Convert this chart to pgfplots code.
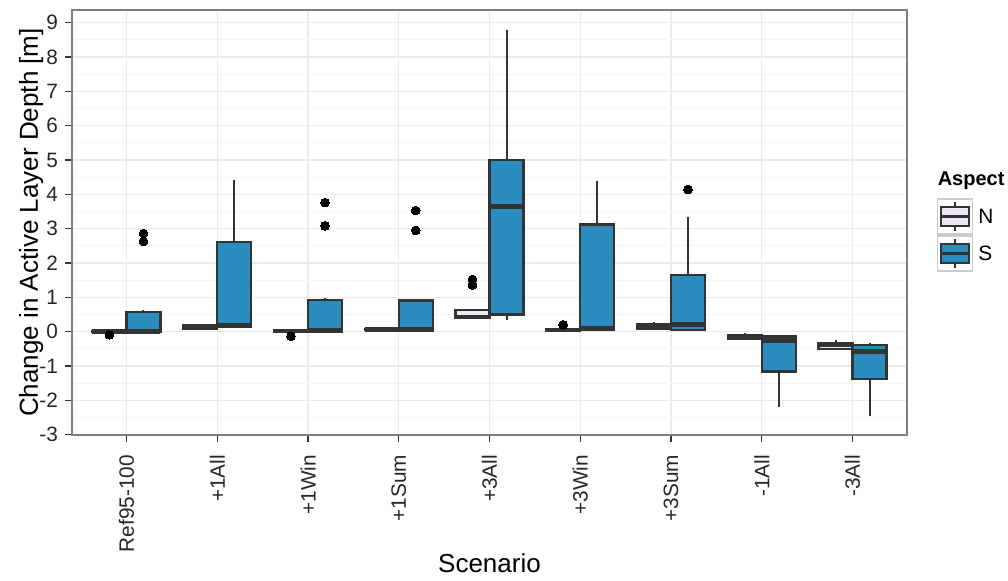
\documentclass[border=0pt]{standalone}
\usepackage{fontspec}
\setmainfont{Liberation Sans}
\usepackage{pgfplots}
\pgfplotsset{compat=1.18}
\usepgfplotslibrary{statistics}

\definecolor{nfill}{HTML}{ECE7F2}
\definecolor{sfill}{HTML}{2B8CBE}
\definecolor{boxline}{HTML}{333333}
\definecolor{gridmaj}{HTML}{EBEBEB}
\definecolor{gridmin}{HTML}{F5F5F5}
\definecolor{panelframe}{HTML}{7F7F7F}
\definecolor{keyframe}{HTML}{CCCCCC}

\pgfplotsset{
  aspectbox/.style={
    boxplot/draw direction=y,
    boxplot/box extend=0.375,
    boxplot/whisker extend=0,
    draw=boxline, line width=1pt,
    mark=*, mark size=2.2pt,
    mark options={fill=black, draw=black, line width=0pt},
    boxplot/every median/.style={line width=2.2pt},
  },
  Nbox/.style={aspectbox, boxplot/every box/.style={draw=boxline, fill=nfill, line width=1.1pt}},
  Sbox/.style={aspectbox, boxplot/every box/.style={draw=boxline, fill=sfill, line width=1.1pt}},
}

% one box: style, position, lower whisker, lower quartile, median, upper quartile, upper whisker
\newcommand{\aspectbox}[7]{%
  \addplot[#1, boxplot prepared={draw position=#2,
    lower whisker=#3, lower quartile=#4, median=#5,
    upper quartile=#6, upper whisker=#7}]}

\begin{document}
\begin{tikzpicture}
\path[use as bounding box] (-36pt,-72.5pt) rectangle (468pt,217.5pt);
\begin{axis}[
  at={(0pt,0pt)}, anchor=south west,
  scale only axis, width=417.5pt, height=212.5pt,
  xmin=0.4, xmax=9.6, ymin=-3.01, ymax=9.37,
  xtick={1,...,9},
  xticklabels={Ref95-100,+1All,+1Win,+1Sum,+3All,+3Win,+3Sum,-1All,-3All},
  ytick={-3,...,9},
  minor y tick num=1,
  grid=both,
  major grid style={gridmaj, line width=0.7pt},
  minor grid style={gridmin, line width=0.5pt},
  minor tick length=0pt,
  tick align=outside, tick pos=left,
  major tick length=3.5pt,
  major tick style={boxline, line width=0.6pt},
  axis line style={panelframe, line width=0.7pt},
  /pgf/number format/assume math mode=true,
  ticklabel style={font=\fontsize{10.4}{12}\selectfont, text=black!85},
  xticklabel style={yshift=-3pt, rotate=90, anchor=east},
  xlabel={Scenario},
  ylabel={Change in Active Layer Depth [m]},
  label style={font=\fontsize{13}{15}\selectfont},
  xlabel style={at={(axis description cs:0.5,-0.301)}, anchor=center},
  ylabel style={at={(axis description cs:-0.049,0.5)}, anchor=center},
]
% Aspect N (left of each scenario)
\aspectbox{Nbox}{0.8125}{-0.02}{-0.01}{0.00}{0.02}{0.03} coordinates {(0,-0.09)};
\aspectbox{Nbox}{1.8125}{0.05}{0.07}{0.14}{0.20}{0.22} coordinates {};
\aspectbox{Nbox}{2.8125}{-0.01}{0.00}{0.02}{0.04}{0.05} coordinates {(0,-0.13)};
\aspectbox{Nbox}{3.8125}{0.00}{0.04}{0.06}{0.08}{0.09} coordinates {};
\aspectbox{Nbox}{4.8125}{0.40}{0.41}{0.43}{0.63}{0.65} coordinates {(0,1.52) (0,1.36)};
\aspectbox{Nbox}{5.8125}{0.02}{0.03}{0.05}{0.08}{0.09} coordinates {(0,0.20)};
\aspectbox{Nbox}{6.8125}{0.07}{0.08}{0.12}{0.22}{0.27} coordinates {};
\aspectbox{Nbox}{7.8125}{-0.22}{-0.20}{-0.15}{-0.10}{-0.05} coordinates {};
\aspectbox{Nbox}{8.8125}{-0.52}{-0.50}{-0.38}{-0.34}{-0.23} coordinates {};
% Aspect S (right of each scenario)
\aspectbox{Sbox}{1.1875}{0.00}{0.00}{0.01}{0.58}{0.62} coordinates {(0,2.86) (0,2.63)};
\aspectbox{Sbox}{2.1875}{0.10}{0.15}{0.20}{2.62}{4.42} coordinates {};
\aspectbox{Sbox}{3.1875}{0.00}{0.00}{0.05}{0.93}{0.97} coordinates {(0,3.76) (0,3.08)};
\aspectbox{Sbox}{4.1875}{0.02}{0.03}{0.07}{0.91}{0.94} coordinates {(0,3.53) (0,2.95)};
\aspectbox{Sbox}{5.1875}{0.34}{0.50}{3.65}{5.01}{8.80} coordinates {};
\aspectbox{Sbox}{6.1875}{0.04}{0.05}{0.10}{3.12}{4.38} coordinates {};
\aspectbox{Sbox}{7.1875}{0.04}{0.05}{0.21}{1.66}{3.33} coordinates {(0,4.14)};
\aspectbox{Sbox}{8.1875}{-2.18}{-1.16}{-0.26}{-0.14}{-0.12} coordinates {};
\aspectbox{Sbox}{9.1875}{-2.47}{-1.38}{-0.58}{-0.39}{-0.34} coordinates {};
\end{axis}

% legend: Aspect
\node[anchor=west, inner sep=0pt, font=\bfseries\fontsize{10}{12}\selectfont] at (432.7pt,127.2pt) {Aspect};
\foreach \yb/\col/\lab in {100.5/nfill/N, 82/sfill/S}{
  \draw[keyframe, fill=white, line width=0.6pt] (432.7pt,\yb pt) rectangle (450.3pt,\yb pt+17.5pt);
  \draw[boxline, line width=0.9pt] (441.5pt,\yb pt+1.7pt) -- (441.5pt,\yb pt+15.8pt);
  \draw[boxline, fill=\col, line width=1.1pt] (434.5pt,\yb pt+3.9pt) rectangle (448.5pt,\yb pt+13.6pt);
  \draw[boxline, line width=1.4pt] (434.5pt,\yb pt+8.75pt) -- (448.5pt,\yb pt+8.75pt);
  \node[anchor=west, inner sep=0pt, font=\fontsize{10.4}{12}\selectfont] at (453pt,\yb pt+8.6pt) {\lab};
}
\end{tikzpicture}
\end{document}
